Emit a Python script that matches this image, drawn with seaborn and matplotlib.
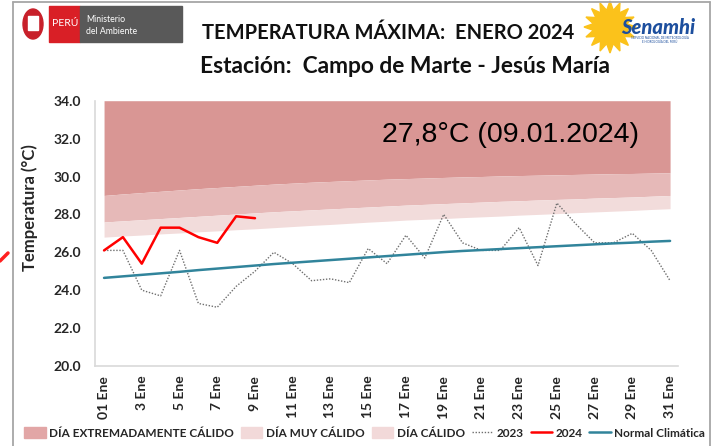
import numpy as np
import seaborn as sns
import matplotlib.pyplot as plt
from matplotlib.patches import Rectangle, Ellipse, Polygon, Patch
from matplotlib.lines import Line2D

# days of January
days = list(range(1, 32))
tick_days = list(range(1, 32, 2))
tick_labels = ["01 Ene"] + [f"{d} Ene" for d in tick_days[1:]]

# daily maximum temperature (°C)
t2023 = [26.1, 26.1, 24.0, 23.7, 26.1, 23.3, 23.1, 24.2, 25.0, 26.0,
         25.4, 24.5, 24.6, 24.4, 26.2, 25.4, 26.9, 25.7, 28.0, 26.5,
         26.1, 26.1, 27.3, 25.3, 28.6, 27.5, 26.5, 26.5, 27.0, 26.1, 24.5]
t2024 = [26.1, 26.8, 25.4, 27.3, 27.3, 26.8, 26.5, 27.9, 27.8]

normal = [24.65, 24.73, 24.81, 24.89, 24.97, 25.06, 25.14, 25.22, 25.30, 25.38,
          25.45, 25.52, 25.59, 25.66, 25.73, 25.80, 25.87, 25.94, 26.01, 26.07,
          26.12, 26.17, 26.22, 26.27, 26.32, 26.37, 26.42, 26.47, 26.51, 26.56, 26.60]

# thresholds: cálido / muy cálido / extremadamente cálido
umbral_calido = [26.80, 26.86, 26.91, 26.97, 27.02, 27.08, 27.13, 27.19, 27.24, 27.30,
                 27.36, 27.42, 27.47, 27.53, 27.59, 27.64, 27.70, 27.74, 27.78, 27.83,
                 27.87, 27.91, 27.96, 28.00, 28.04, 28.09, 28.13, 28.17, 28.21, 28.26, 28.30]
umbral_muy = [27.60, 27.66, 27.72, 27.78, 27.84, 27.90, 27.96, 28.02, 28.08, 28.14,
              28.19, 28.24, 28.29, 28.34, 28.39, 28.44, 28.49, 28.53, 28.57, 28.61,
              28.65, 28.69, 28.72, 28.76, 28.79, 28.82, 28.86, 28.89, 28.92, 28.96, 29.00]
umbral_ext = [29.00, 29.08, 29.15, 29.22, 29.29, 29.36, 29.42, 29.48, 29.54, 29.60,
              29.65, 29.70, 29.74, 29.78, 29.82, 29.86, 29.89, 29.92, 29.95, 29.98,
              30.00, 30.03, 30.05, 30.07, 30.09, 30.11, 30.13, 30.15, 30.16, 30.18, 30.20]
techo = 34.0

c_ext, c_muy, c_cal = "#d99694", "#e6b9b8", "#f2dcdb"
c_2024, c_norm, c_2023 = "#ff0000", "#31849b", "#6f6f6f"

sns.set_style("white")
plt.rcParams["font.family"] = ["Lato", "DejaVu Sans"]

fig = plt.figure(figsize=(7.18, 4.46), dpi=100)

# decorative background (frame, logos) in pixel coordinates
bg = fig.add_axes([0, 0, 1, 1], zorder=0)
bg.set_xlim(0, 718)
bg.set_ylim(446, 0)
bg.axis("off")
for xs, ys in [([13, 13], [2, 446]), ([13, 710], [2, 2]), ([710, 710], [2, 446])]:
    bg.add_line(Line2D(xs, ys, color="#a6a6a6", lw=1.3))
bg.add_line(Line2D([0, 8], [261, 253], color="#ff2020", lw=2.5))
# Perú / Ministerio del Ambiente
bg.add_patch(Ellipse((33, 24), 20, 30, color="#c8202a"))
bg.add_patch(Rectangle((28, 16), 10, 14, color="#ffffff"))
bg.add_patch(Rectangle((49, 6), 31, 36, color="#d91f26"))
bg.add_patch(Rectangle((80, 6), 102, 36, color="#595959"))
bg.text(52, 24, "PERÚ", color="white", fontsize=7.5, va="center", ha="left")
bg.text(86, 20, "Ministerio", color="white", fontsize=6.3, va="center", ha="left")
bg.text(86, 31, "del Ambiente", color="white", fontsize=6.3, va="center", ha="left")
# Senamhi
ang = np.linspace(0, 2 * np.pi, 33)[:-1]
rad = np.where(np.arange(32) % 2 == 0, 26, 17)
bg.add_patch(Polygon(np.c_[610 + rad * np.cos(ang), 27 + rad * np.sin(ang)], color="#fbc21b"))
bg.text(658, 27, "Senamhi", color="#1d4f9e", fontsize=14.5, fontweight="black",
        style="italic", ha="center", va="center")
bg.text(660, 40, "SERVICIO NACIONAL DE METEOROLOGÍA\nE HIDROLOGÍA DEL PERÚ", color="#1d4f9e",
        fontsize=2.2, ha="center", va="center", linespacing=1.0)

fig.text(0.281, 0.926, "TEMPERATURA MÁXIMA:  ENERO 2024", fontsize=14.5, fontweight="bold",
         ha="left", va="center", color="#111111")
fig.text(0.279, 0.850, "Estación:  Campo de Marte - Jesús María", fontsize=16.4,
         fontweight="bold", ha="left", va="center", color="#111111")

ax = fig.add_axes([0.1323, 0.1794, 0.812, 0.5948], zorder=1)
ax.patch.set_alpha(0)

ax.fill_between(days, umbral_ext, techo, color=c_ext, lw=0)
ax.fill_between(days, umbral_muy, umbral_ext, color=c_muy, lw=0)
ax.fill_between(days, umbral_calido, umbral_muy, color=c_cal, lw=0)

sns.lineplot(x=days, y=t2023, ax=ax, color=c_2023, lw=1.0, linestyle=(0, (1, 1.2)))
sns.lineplot(x=days, y=normal, ax=ax, color=c_norm, lw=1.8)
sns.lineplot(x=days[:len(t2024)], y=t2024, ax=ax, color=c_2024, lw=1.8)

ax.text(0.712, 0.871, "27,8°C (09.01.2024)", transform=ax.transAxes, fontsize=20.5,
        family="Liberation Sans", ha="center", va="center", color="black")

ax.set_xlim(0.52, 31.42)
ax.set_ylim(20, 34)
ax.set_yticks(np.arange(20, 34.1, 2))
ax.set_yticklabels([f"{v:.1f}" for v in np.arange(20, 34.1, 2)])
ax.set_xticks(tick_days)
ax.set_xticklabels(tick_labels, rotation=90)
ax.tick_params(axis="both", length=0, labelsize=10, colors="#262626")
ax.tick_params(axis="y", pad=10)
ax.tick_params(axis="x", pad=7)
for lab in ax.get_xticklabels() + ax.get_yticklabels():
    lab.set_fontweight("bold")
ax.set_ylabel("Temperatura (°C)", fontsize=12, fontweight="bold", color="#262626")
ax.yaxis.set_label_coords(-0.097, 0.596)
ax.set_xlabel("")
sns.despine(ax=ax)
for s in ["left", "bottom"]:
    ax.spines[s].set_color("#d9d9d9")
    ax.spines[s].set_linewidth(1.2)
ax.spines["bottom"].set_bounds(0.52, 31.42)

handles = [
    Patch(color="#e2a6a6", label="DÍA EXTREMADAMENTE CÁLIDO"),
    Patch(color="#f2d9d9", label="DÍA MUY CÁLIDO"),
    Patch(color="#f2d9d9", label="DÍA CÁLIDO"),
    Line2D([], [], color=c_2023, lw=1.0, linestyle=(0, (1, 1.2)), label="2023"),
    Line2D([], [], color=c_2024, lw=1.8, label="2024"),
    Line2D([], [], color=c_norm, lw=1.8, label="Normal Climática"),
]
leg = fig.legend(handles=handles, loc="center", bbox_to_anchor=(0.508, 0.029), ncol=6,
                 frameon=False, fontsize=8.5, handlelength=1.8, handletextpad=0.3,
                 columnspacing=0.6, handleheight=1.0)
for t in leg.get_texts():
    t.set_fontweight("bold")
    t.set_color("#262626")

fig.savefig("out.png", dpi=100)
